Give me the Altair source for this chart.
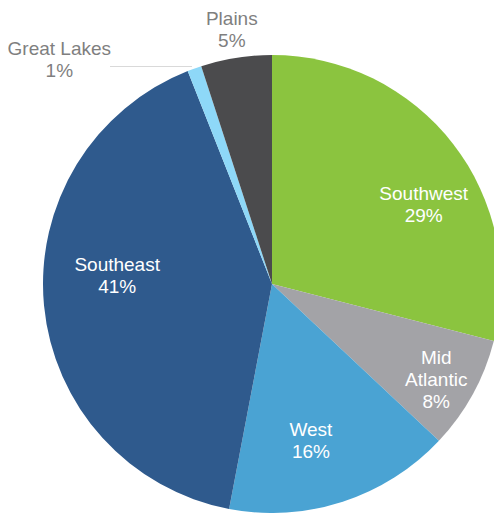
import math
import altair as alt
import pandas as pd

# data
regions = ["Southwest", "Mid Atlantic", "West", "Southeast", "Great Lakes", "Plains"]
shares = [29, 8, 16, 41, 1, 5]

# style
colors = ["#8BC43F", "#A3A3A7", "#4AA3D3", "#2F5A8D", "#8ED8F8", "#4B4B4D"]
text_colors = ["#FFFFFF", "#FFFFFF", "#FFFFFF", "#FFFFFF", "#7F7F7F", "#7F7F7F"]
label_radius = [171, 185, 162, 155, 309, 257]
label_turn_deg = [10.3, -1.4, 4.1, 8.2, -23.7, 0.0]
LINE_H = 22

labels = [
    (r.replace(" ", "\n") if r == "Mid Atlantic" else r) + "\n" + f"{s}%"
    for r, s in zip(regions, shares)
]

df = pd.DataFrame({
    "idx": list(range(len(regions))),
    "region": regions,
    "share": shares,
    "color": colors,
    "tcolor": text_colors,
    "lr": label_radius,
    "turn": label_turn_deg,
    "label": labels,
})

CX, CY, R = 264, 276, 229
theta_scale = alt.Scale(domain=[0, 100], range=[0, 2 * math.pi])

base = alt.Chart(df)

pie = base.mark_arc(radius=R, stroke=None).encode(
    theta=alt.Theta("share:Q", stack=True, scale=theta_scale),
    color=alt.Color("color:N", scale=None),
    order=alt.Order("idx:Q"),
    x=alt.value(CX),
    y=alt.value(CY),
)

text = base.transform_window(
    cum="sum(share)", sort=[alt.SortField("idx")], frame=[None, 0]
).transform_calculate(
    mid="datum.cum - datum.share / 2 + datum.turn / 3.6"
).mark_text(
    font="Liberation Sans", fontSize=19, lineBreak="\n", lineHeight=LINE_H,
    align="center", baseline="middle", dy=-LINE_H / 2,
).encode(
    theta=alt.Theta("mid:Q", scale=theta_scale),
    radius=alt.Radius("lr:Q", scale=None),
    text=alt.Text("label:N"),
    color=alt.Color("tcolor:N", scale=None),
    x=alt.value(CX),
    y=alt.value(CY),
)

leader = base.transform_filter(alt.datum.region == "Great Lakes").mark_rule(
    color="#D9D9D9", strokeWidth=1
).encode(x=alt.value(102), x2=alt.value(184), y=alt.value(58.5))

chart = alt.layer(pie, leader, text).properties(
    width=486, height=505, padding=0, autosize=alt.AutoSizeParams(type="none"),
    background="white",
).configure_view(stroke=None)

chart.save("out.html", embed_options={"renderer": "svg", "actions": False})
